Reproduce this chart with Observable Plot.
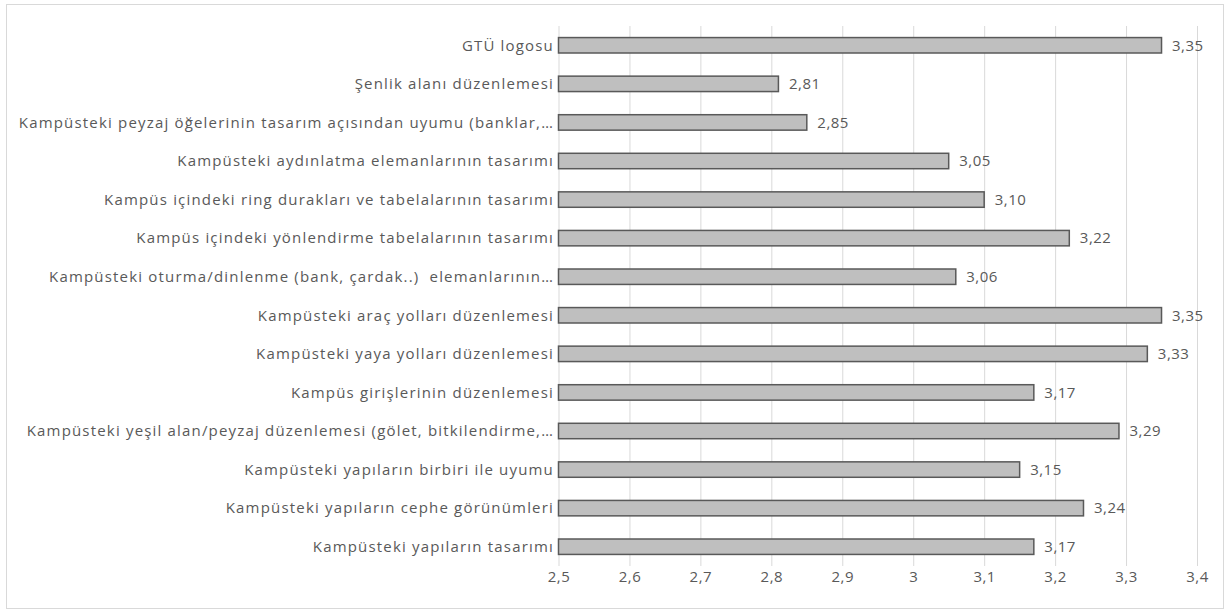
<!DOCTYPE html>
<html>
<head>
<meta charset="utf-8">
<script src="https://cdn.jsdelivr.net/npm/d3@7"></script>
<script src="https://cdn.jsdelivr.net/npm/@observablehq/plot@0.6"></script>
<style>
  html, body { margin: 0; padding: 0; background: #fff; }
  #wrap { position: relative; width: 1231px; height: 614px; }
  #frame { position: absolute; left: 6px; top: 4px; width: 1218px; height: 605px; border: 1px solid #d9d9d9; box-sizing: border-box; pointer-events: none; }
  #chart { position: absolute; left: 0; top: 0; }
  #chart svg text { letter-spacing: 0.5px; }
  #chart svg g[aria-label="y-axis tick label"] text { letter-spacing: 1.18px; }
</style>
</head>
<body>
<div id="wrap"><div id="chart"></div><div id="frame"></div></div>
<script>
const categories = [
  "GTÜ logosu",
  "Şenlik alanı düzenlemesi",
  "Kampüsteki peyzaj öğelerinin tasarım açısından uyumu (banklar,…",
  "Kampüsteki aydınlatma elemanlarının tasarımı",
  "Kampüs içindeki ring durakları ve tabelalarının tasarımı",
  "Kampüs içindeki yönlendirme tabelalarının tasarımı",
  "Kampüsteki oturma/dinlenme (bank, çardak..)  elemanlarının…",
  "Kampüsteki araç yolları düzenlemesi",
  "Kampüsteki yaya yolları düzenlemesi",
  "Kampüs girişlerinin düzenlemesi",
  "Kampüsteki yeşil alan/peyzaj düzenlemesi (gölet, bitkilendirme,…",
  "Kampüsteki yapıların birbiri ile uyumu",
  "Kampüsteki yapıların cephe görünümleri",
  "Kampüsteki yapıların tasarımı"
];
const values = [3.35, 2.81, 2.85, 3.05, 3.10, 3.22, 3.06, 3.35, 3.33, 3.17, 3.29, 3.15, 3.24, 3.17];
const xTicks = [2.5, 2.6, 2.7, 2.8, 2.9, 3.0, 3.1, 3.2, 3.3, 3.4];

const data = categories.map((name, i) => ({name, value: values[i]}));
const comma = (v, d) => v.toFixed(d).replace(".", ",");

const chart = Plot.plot({
  width: 1231,
  height: 614,
  marginLeft: 558.5,
  marginRight: 34,
  marginTop: 26,
  marginBottom: 48,
  style: {fontFamily: "'Open Sans', sans-serif", fontSize: "15px", color: "#595959", background: "transparent"},
  x: {domain: [2.5, 3.4], ticks: xTicks},
  y: {domain: categories, paddingInner: 0.6, paddingOuter: 0.3, round: false, label: null},
  marks: [
    Plot.gridX(xTicks, {stroke: "#d9d9d9", strokeOpacity: 1}),
    Plot.axisX({ticks: xTicks, tickSize: 0, tickPadding: 5, label: null, color: "#595959", tickFormat: d => String(+d.toFixed(1)).replace(".", ",")}),
    Plot.axisY({tickSize: 0, tickPadding: 5, label: null, color: "#595959"}),
    Plot.barX(data, {y: "name", x1: 2.5, x2: "value", fill: "#bfbfbf", stroke: "#595959", strokeWidth: 1.5}),
    Plot.text(data, {y: "name", x: "value", text: d => comma(d.value, 2), dx: 10, textAnchor: "start", fill: "#595959"})
  ]
});
document.getElementById("chart").appendChild(chart);
</script>
</body>
</html>
